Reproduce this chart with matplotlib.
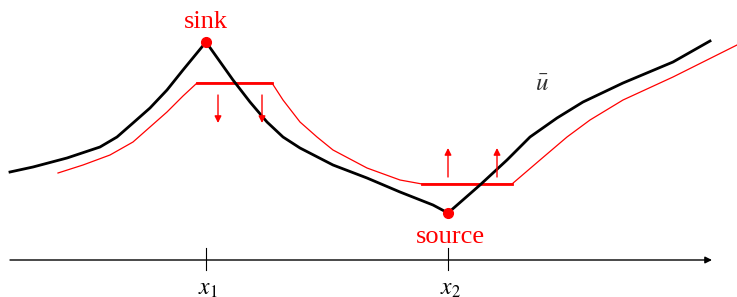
import matplotlib
matplotlib.use("Agg")
import matplotlib.pyplot as plt

plt.rcParams['font.family'] = ['Liberation Serif', 'DejaVu Serif']
plt.rcParams['mathtext.fontset'] = 'stix'

# black curve u-bar (sketch units, y grows downward)
u_x = [10, 33, 67, 100, 117, 133, 150, 167, 183, 206,
       233, 250, 267, 283, 300, 333, 367, 400, 433, 448,
       480, 507, 530, 557, 583, 623, 673, 710]
u_y = [172, 167, 158, 147, 137, 123, 108, 90, 70, 42,
       80, 102, 122, 137, 148, 165, 178, 192, 205, 213,
       185, 160, 137, 118, 102, 83, 62, 41]

# red shifted curve with two flat parts
r_x = [58, 83, 110, 133, 150, 167, 183, 197, 272,
       283, 300, 317, 333, 367, 400, 422, 512,
       540, 567, 590, 623, 673, 737]
r_y = [173, 165, 155, 142, 127, 112, 96, 83, 83,
       100, 122, 137, 150, 168, 180, 184, 184,
       160, 137, 120, 100, 77, 45]

# sink / source points
pts_x = [206, 448]
pts_y = [42, 213]
pts_lbl = ['sink', 'source']

# arrows (x, y_start, y_end)
arr_x = [218, 262, 448, 497]
arr_y0 = [95, 95, 177, 177]
arr_y1 = [123, 123, 148, 148]

ticks_x = [206, 448]
ticks_lbl = [r'$x_1$', r'$x_2$']

fig = plt.figure(figsize=(7.37, 2.97), dpi=100)
ax = fig.add_axes([0, 0, 1, 1])
ax.set_xlim(0, 737)
ax.set_ylim(297, 0)
ax.axis('off')

# red curve: thin sloped parts, thicker flat parts
ax.plot(r_x, r_y, color='red', lw=0.9)
ax.plot(r_x[7:9], r_y[7:9], color='red', lw=2)
ax.plot(r_x[15:17], r_y[15:17], color='red', lw=2)

ax.plot(u_x, u_y, color='black', lw=2)

for x, y0, y1 in zip(arr_x, arr_y0, arr_y1):
    ax.annotate('', xy=(x, y1), xytext=(x, y0),
                arrowprops=dict(arrowstyle='-|>', color='red', lw=1,
                                mutation_scale=10, shrinkA=0, shrinkB=0))

ax.plot(pts_x, pts_y, 'o', color='red', ms=7, zorder=5)
ax.text(pts_x[0], pts_y[0] - 9, pts_lbl[0], color='red', fontsize=19,
        ha='center', va='bottom')
ax.text(pts_x[1] + 2, pts_y[1] + 13, pts_lbl[1], color='red', fontsize=19,
        ha='center', va='top')
ax.text(542, 85, r'$\bar{u}$', color='#333333', fontsize=18,
        ha='center', va='center')

# x axis
ax.annotate('', xy=(712, 260), xytext=(10, 260),
            arrowprops=dict(arrowstyle='-|>', color='black', lw=1,
                            mutation_scale=10, shrinkA=0, shrinkB=0))
for x, lbl in zip(ticks_x, ticks_lbl):
    ax.plot([x, x], [248, 270], color='black', lw=0.8)
    ax.text(x + 2, 289, lbl, fontsize=17, ha='center', va='center')

fig.savefig('out.png', dpi=100)
